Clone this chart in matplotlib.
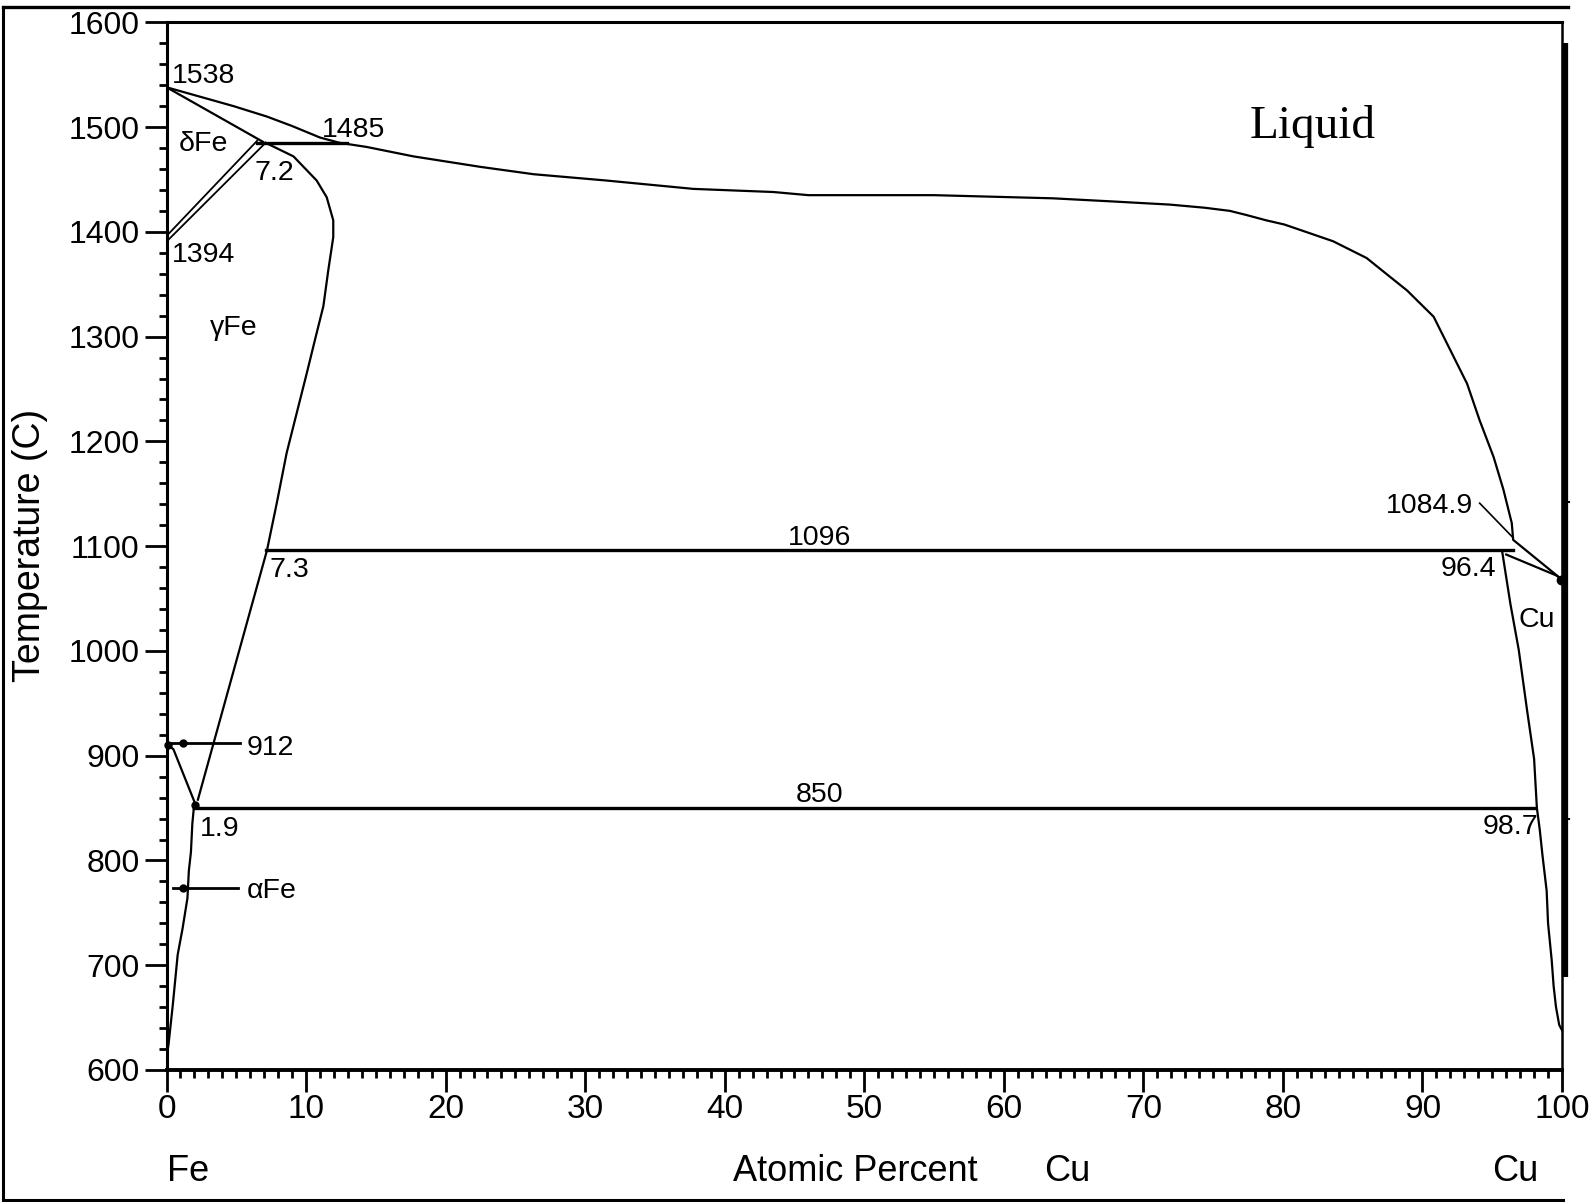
"""Fe-Cu phase diagram redrawn from the reference picture"""
import matplotlib.pyplot as plt
from matplotlib.lines import Line2D
from matplotlib.ticker import MultipleLocator

plt.rcParams['font.family'] = ['Liberation Sans', 'DejaVu Sans']

# liquidus, Fe side to Cu side
liq_x = [0, 2.4, 4.8, 7.2, 9.0, 11.0, 12.4, 14.35, 17.7, 22.5, 26.3, 31.5, 37.75, 43.5, 46.0,
         55.0, 63.5, 67.8, 71.9, 74.4, 76.2, 77.4, 78.8, 80.1, 81.2, 83.6, 86.0, 87.4, 88.9,
         90.8, 92.0, 93.2, 94.1, 95.1, 95.8, 96.4, 96.5, 100.0]
liq_y = [1538, 1529, 1520, 1510, 1501, 1490, 1485, 1481, 1472, 1462, 1455, 1449, 1441, 1438, 1435,
         1435, 1432, 1429, 1426, 1423, 1420, 1416, 1411, 1407, 1402, 1391, 1375, 1360, 1344,
         1319, 1287, 1255, 1220, 1185, 1154, 1122, 1106, 1068]

# delta-Fe solidus and the delta/gamma two-phase band
dsol_x = [0, 6.9]
dsol_y = [1538, 1486]
dg1_x = [0, 6.5]
dg1_y = [1396, 1487]
dg2_x = [0.1, 7.1]
dg2_y = [1392, 1485]

# gamma-Fe boundary (loop + solvus down to the eutectoid)
gam_x = [7.1, 9.1, 10.76, 11.48, 11.95, 11.95, 11.6, 11.24, 10.64, 10.05, 9.33, 8.61, 7.9, 7.2, 2.25]
gam_y = [1485, 1472, 1449, 1433, 1411, 1395, 1364, 1329, 1297, 1265, 1227, 1189, 1141, 1096, 858]

# alpha-Fe boundary
alp_x = [0, 0.5, 2.0, 1.85, 1.75, 1.6, 1.5, 1.15, 0.8, 0.45, 0.15, 0]
alp_y = [912, 906, 856, 835, 808, 790, 764, 735, 710, 662, 625, 612]

# Cu side solvus and solidus
cus_x = [95.7, 96.3, 96.9, 97.5, 98.0, 98.2, 98.4, 98.6, 98.9, 99.0, 99.26, 99.4, 99.57, 99.8, 100]
cus_y = [1096, 1045, 1001, 943, 897, 850, 830, 805, 771, 740, 705, 680, 660, 643, 638]
cusol_x = [96.0, 99.6, 100]
cusol_y = [1092, 1072, 1068]

# invariant lines
iso_T = [1485, 1096, 850]
iso_x0 = [6.5, 7.1, 2.0]
iso_x1 = [12.9, 96.5, 98.1]

# point labels: text, x, y, horizontal alignment
labels = [
    ('1538', 0.39, 1552, 'left'),
    ('1485', 11.1, 1500, 'left'),
    ('δFe', 0.9, 1487, 'left'),
    ('7.2', 6.3, 1459, 'left'),
    ('1394', 0.39, 1381, 'left'),
    ('γFe', 3.1, 1311, 'left'),
    ('7.3', 7.4, 1080, 'left'),
    ('1096', 46.8, 1111, 'center'),
    ('96.4', 95.3, 1081, 'right'),
    ('1084.9', 93.6, 1141, 'right'),
    ('Cu', 96.85, 1032, 'left'),
    ('912', 5.75, 910, 'left'),
    ('1.9', 2.4, 833, 'left'),
    ('αFe', 5.75, 774, 'left'),
    ('850', 46.8, 865, 'center'),
    ('98.7', 98.3, 835, 'right'),
]

fig = plt.figure(figsize=(15.92, 12.02), dpi=100)
ax = fig.add_axes([0.10459, 0.10982, 0.87657, 0.87163])
ax.set_xlim(0, 100)
ax.set_ylim(600, 1600)

lw = 1.6
ax.plot(liq_x, liq_y, 'k-', lw=lw)
ax.plot(dsol_x, dsol_y, 'k-', lw=lw)
ax.plot(dg1_x, dg1_y, 'k-', lw=1.3)
ax.plot(dg2_x, dg2_y, 'k-', lw=1.3)
ax.plot(gam_x, gam_y, 'k-', lw=lw)
ax.plot(alp_x, alp_y, 'k-', lw=lw)
ax.plot(cus_x, cus_y, 'k-', lw=lw, clip_on=False)
ax.plot(cusol_x, cusol_y, 'k-', lw=lw, clip_on=False)
for T, a, b in zip(iso_T, iso_x0, iso_x1):
    ax.plot([a, b], [T, T], 'k-', lw=2.4)

# leaders and markers
ax.plot([0, 5.3], [912, 912], 'k-', lw=2.0, clip_on=False)
ax.plot([0.45, 5.1], [774, 774], 'k-', lw=2.0)
ax.plot([94.1, 96.5], [1141, 1108], 'k-', lw=1.2)
ax.plot([1.2, 1.2], [912, 774], 'ko', ms=5, ls='none')
ax.plot([0.1], [910], 'ko', ms=5, clip_on=False)
ax.plot([2.05], [853], 'ko', ms=5)
ax.plot([99.9], [1068], 'ko', ms=6, clip_on=False)

# thick pure-Cu line on the right edge
ax.plot([100.2, 100.2], [1580, 689], 'k-', lw=4.5, clip_on=False, solid_capstyle='butt')
ax.plot([100.2, 100.5], [1142, 1142], 'k-', lw=1.5, clip_on=False)
ax.plot([100.2, 100.5], [840, 840], 'k-', lw=1.5, clip_on=False)

for txt, x, y, ha in labels:
    ax.text(x, y, txt, fontsize=20.5, ha=ha, va='center_baseline')
ax.text(77.6, 1490, 'Liquid', fontsize=34, family='Liberation Serif', va='baseline')

# axes styling
ax.xaxis.set_major_locator(MultipleLocator(10))
ax.xaxis.set_minor_locator(MultipleLocator(1))
ax.yaxis.set_major_locator(MultipleLocator(100))
ax.yaxis.set_minor_locator(MultipleLocator(20))
ax.tick_params(axis='both', which='major', direction='out', length=16, width=2.0,
               color='black', labelsize=24)
ax.tick_params(axis='both', which='minor', direction='out', length=6, width=2.0)
ax.tick_params(axis='y', which='major', pad=3.5, labelsize=23)
ax.tick_params(axis='x', which='major', pad=1.5)
ax.spines['left'].set_linewidth(2.2)
ax.spines['bottom'].set_linewidth(2.8)
ax.spines['top'].set_linewidth(2.2)
ax.spines['right'].set_linewidth(1.8)

fig.text(0.0188, 0.5466, 'Temperature (C)', rotation=90, fontsize=27, ha='center', va='center')
fig.text(0.1049, 0.0283, 'Fe', fontsize=26, va='center_baseline')
fig.text(0.4604, 0.0283, 'Atomic Percent', fontsize=26, va='center_baseline')
fig.text(0.6558, 0.0283, 'Cu', fontsize=26, va='center_baseline')
fig.text(0.9372, 0.0283, 'Cu', fontsize=26, va='center_baseline')

# outer border (left, top, bottom)
fig.add_artist(Line2D([0.0019, 0.0019], [0.0017, 0.9942], color='k', lw=2.2))
fig.add_artist(Line2D([0.0019, 0.985], [0.9942, 0.9942], color='k', lw=2.4))
fig.add_artist(Line2D([0.0019, 0.9818], [0.0017, 0.0017], color='k', lw=2.2))

fig.savefig('out.png', dpi=100, facecolor='white')
